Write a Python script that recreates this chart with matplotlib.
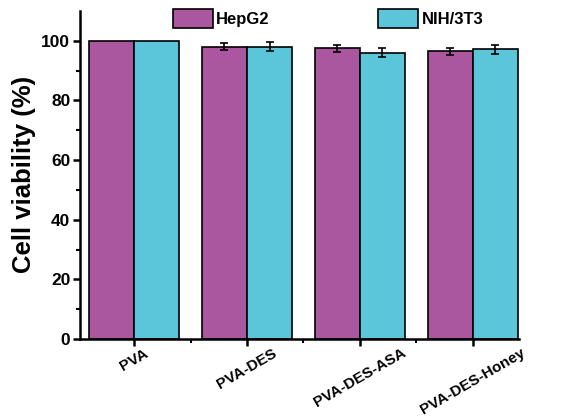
import numpy as np
import matplotlib.pyplot as plt
from matplotlib.ticker import FixedLocator

# data
samples = ['PVA', 'PVA-DES', 'PVA-DES-ASA', 'PVA-DES-Honey']
hepg2 = [100.0, 98.0, 97.5, 96.4]
hepg2_err = [np.nan, 1.2, 1.2, 1.1]
nih3t3 = [100.0, 98.0, 95.9, 97.1]
nih3t3_err = [np.nan, 1.5, 1.5, 1.4]

plt.rcParams['font.family'] = ['Liberation Sans', 'DejaVu Sans']
plt.rcParams['font.weight'] = 'bold'

fig = plt.figure(figsize=(5.65, 4.18), dpi=100)
ax = fig.add_axes([0.1416, 0.189, 0.777, 0.785])

x = np.arange(len(samples))
w = 0.4
purple = '#AA579F'
cyan = '#5BC6DA'

ax.bar(x - w / 2, hepg2, w, color=purple, edgecolor='black', linewidth=1.2,
       yerr=hepg2_err, capsize=3, error_kw=dict(elinewidth=1.2, capthick=1.2), label='HepG2')
ax.bar(x + w / 2, nih3t3, w, color=cyan, edgecolor='black', linewidth=1.2,
       yerr=nih3t3_err, capsize=3, error_kw=dict(elinewidth=1.2, capthick=1.2), label='NIH/3T3')

ax.set_xlim(-0.48, 3.41)
ax.set_ylim(0, 110)
ax.set_yticks([0, 20, 40, 60, 80, 100])
ax.yaxis.set_minor_locator(FixedLocator([10, 30, 50, 70, 90]))
ax.set_xticks(x)
ax.xaxis.set_minor_locator(FixedLocator([0.5, 1.5, 2.5]))
ax.set_xticklabels(samples, rotation=30, ha='center', fontsize=11, fontweight='bold')
for lbl in ax.get_yticklabels():
    lbl.set_fontsize(12.5)
    lbl.set_fontweight('bold')

for s in ['top', 'right']:
    ax.spines[s].set_visible(False)
for s in ['left', 'bottom']:
    ax.spines[s].set_linewidth(1.8)
ax.tick_params(which='major', direction='out', length=5, width=1.8, pad=2)
ax.tick_params(axis='x', which='major', pad=0)
ax.tick_params(which='minor', direction='out', length=3, width=1.5)

ax.set_ylabel('Cell viability (%)', fontsize=18.5, fontweight='bold', labelpad=4)

ax.legend(loc='upper center', bbox_to_anchor=(0.565, 1.05), ncol=2, frameon=False,
          columnspacing=6.5, handlelength=2.4, handleheight=1.3, handletextpad=0.2,
          prop={'weight': 'bold', 'size': 12})

fig.savefig('out.png', dpi=100)
